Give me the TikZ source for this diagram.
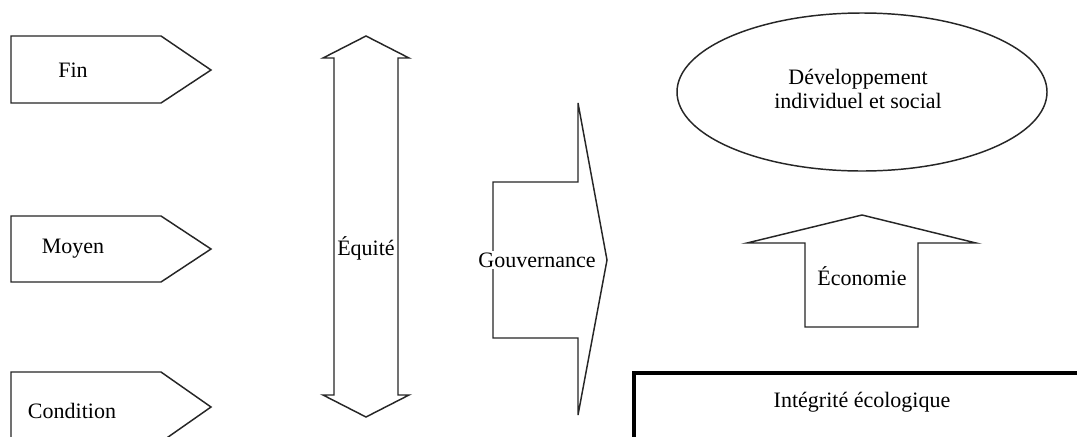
\documentclass[tikz,border=0pt]{standalone}
\usepackage{fontspec}
\setmainfont{Liberation Serif}
\begin{document}
\begin{tikzpicture}[x=0.75pt,y=-0.75pt,
  shapeline/.style={draw=black!85, line width=1.1pt, line join=miter},
  thickline/.style={draw=black, line width=2.6pt},
  lbl/.style={font=\fontsize{16.5}{17.5}\selectfont, inner sep=1pt, align=center, text=black}]
\clip (0,0) rectangle (1077,436);
\fill[white] (0,0) rectangle (1077,436);
% left pentagons
\draw[shapeline] (11,36) -- (161,36) -- (211,70) -- (161,103) -- (11,103) -- cycle;
\node[lbl] (fin) at (73,70) {Fin};
\draw[shapeline] (11,216) -- (161,216) -- (211,249) -- (161,282) -- (11,282) -- cycle;
\node[lbl] (moyen) at (73,249) {Moyen};
\draw[shapeline] (11,372) -- (161,372) -- (211,407) -- (161,442) -- (11,442) -- cycle;
\node[lbl] (condition) at (72,411) {Condition};
% Equite double arrow
\draw[shapeline] (366,36) -- (409,58) -- (398,58) -- (398,395) -- (409,395) -- (366,417)
  -- (323,395) -- (334,395) -- (334,58) -- (323,58) -- cycle;
\node[lbl] (equite) at (366,248) {Équité};
% Gouvernance arrow
\draw[shapeline] (493,182) -- (578,182) -- (578,103) -- (607,260) -- (578,415) -- (578,338)
  -- (493,338) -- cycle;
\node[lbl, fill=white] (gouv) at (537,260) {Gouvernance};
% ellipse
\draw[shapeline] (862,92) ellipse [x radius=185, y radius=79];
\node[lbl] (dev) at (858,89) {Développement\\individuel et social};
% Economie arrow
\draw[shapeline] (862,215) -- (976,243) -- (918,243) -- (918,327) -- (805,327) -- (805,243)
  -- (747,243) -- cycle;
\node[lbl] (eco) at (862,276) {Économie};
% rectangle
\draw[thickline] (634,373) rectangle (1110,470);
\node[lbl] (integ) at (862,402) {Intégrité écologique};
\end{tikzpicture}
\end{document}
